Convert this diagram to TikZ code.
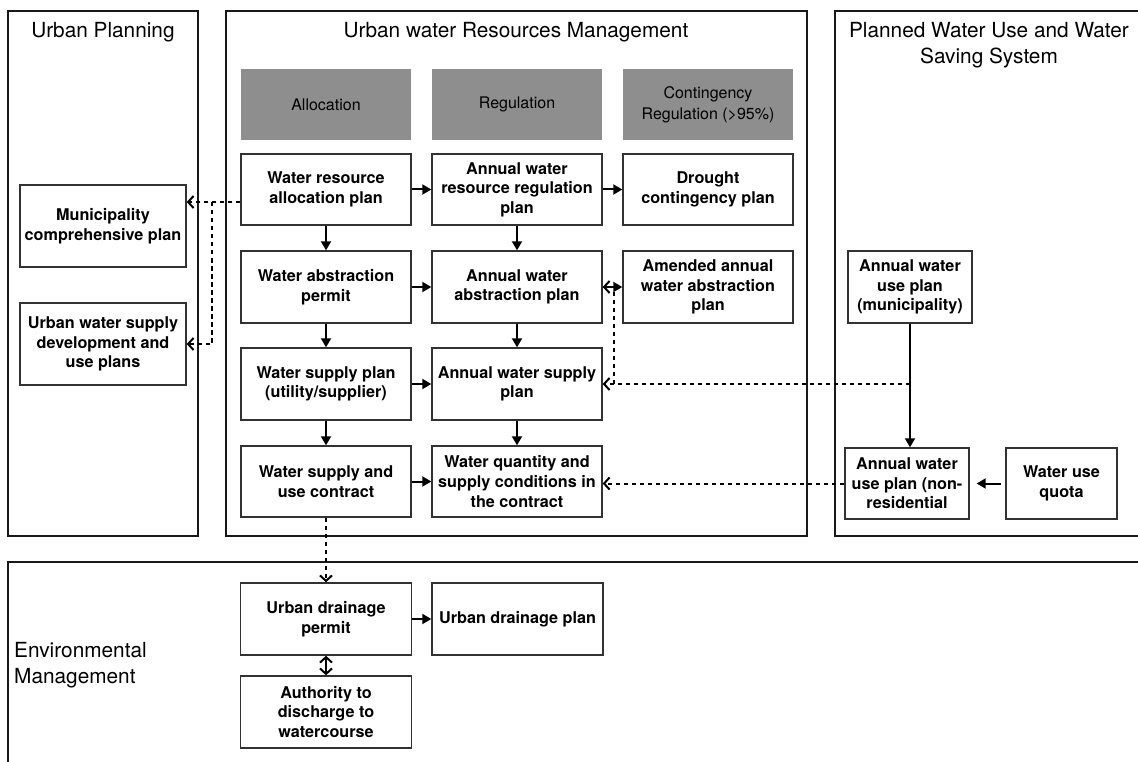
\documentclass[tikz,border=0pt]{standalone}
\usepackage{fontspec}
\setmainfont{TeX Gyre Heros}
\usetikzlibrary{arrows.meta}
\definecolor{hdrgray}{RGB}{142,142,142}
\definecolor{boxline}{RGB}{50,50,50}
\begin{document}
\begin{tikzpicture}[x=1pt,y=-1pt,
  panel/.style={draw=black!90,line width=2.4pt},
  paneltitle/.style={font=\fontsize{20.8}{26.5}\selectfont,align=center,inner sep=0},
  header/.style={fill=hdrgray,minimum width=170,minimum height=71,inner sep=0,align=center,
    font=\fontsize{16}{21}\selectfont},
  box/.style={draw=boxline,line width=1.4pt,fill=white,inner sep=0,align=center,
    font=\bfseries\fontsize{16.2}{19.6}\selectfont},
  flow/.style={line width=2pt,-{Triangle[length=9pt,width=10pt]}},
  link/.style={line width=2pt,dash pattern=on 4.5pt off 3.5pt,-{Straight Barb[length=5.5pt,width=12pt]}},
  twoway/.style={line width=2pt,{Straight Barb[length=5.5pt,width=12pt]}-{Straight Barb[length=5.5pt,width=12pt]}},
]
\useasboundingbox (0,0) rectangle (1138,762);
\clip (0,0) rectangle (1138,762);

% ---- panels ----
\draw[panel] (8,11) rectangle (198,536);
\draw[panel] (226,11) rectangle (807,536);
\draw[panel] (835,11) rectangle (1160,536);
\draw[panel] (8,562) rectangle (1160,790);

\node[paneltitle] (tUP) at (103,32) {Urban Planning};
\node[paneltitle] (tURM) at (516,32) {Urban water Resources Management};
\node[paneltitle] (tPWU) at (989,45) {Planned Water Use and Water\\Saving System};
\node[paneltitle,align=left,anchor=west] (tEM) at (14,665) {Environmental\\Management};

% ---- column headers ----
\node[header] (hAlloc) at (326,104.5) {Allocation};
\node[header] (hReg) at (517,104.5) {Regulation};
\node[header] (hCont) at (708,104.5) {Contingency\\Regulation (>95\%)};

% ---- water resources management ----
\node[box,minimum width=170,minimum height=71] (war) at (326,189.5) {Water resource\\allocation plan};
\node[box,minimum width=170,minimum height=71] (awrr) at (517,189.5) {Annual water\\resource regulation\\plan};
\node[box,minimum width=170,minimum height=71] (dcp) at (708,189.5) {Drought\\contingency plan};

\node[box,minimum width=170,minimum height=72] (wap) at (326,287) {Water abstraction\\permit};
\node[box,minimum width=170,minimum height=72] (awap) at (517,287) {Annual water\\abstraction plan};
\node[box,minimum width=170,minimum height=72] (aawap) at (708,287) {Amended annual\\water abstraction\\plan};

\node[box,minimum width=170,minimum height=72] (wsp) at (326,384) {Water supply plan\\(utility/supplier)};
\node[box,minimum width=170,minimum height=72] (awsp) at (517,384) {Annual water supply\\plan};

\node[box,minimum width=170,minimum height=71] (wsuc) at (326,481.5) {Water supply and\\use contract};
\node[box,minimum width=170,minimum height=71] (wqsc) at (517,481.5) {Water quantity and\\supply conditions in\\the contract};

% ---- urban planning ----
\node[box,minimum width=166,minimum height=82] (mcp) at (103,226) {Municipality\\comprehensive plan};
\node[box,minimum width=166,minimum height=82] (uwsd) at (103,344) {Urban water supply\\development and\\use plans};

% ---- planned water use ----
\node[box,minimum width=124,minimum height=72] (awum) at (910,287) {Annual water\\use plan\\(municipality)};
\node[box,minimum width=124,minimum height=71] (awun) at (907,483.5) {Annual water\\use plan (non-\\residential};
\node[box,minimum width=111,minimum height=71] (wuq) at (1061.5,483.5) {Water use\\quota};

% ---- environmental management ----
\node[box,minimum width=171,minimum height=72] (udp) at (326,619) {Urban drainage\\permit};
\node[box,minimum width=171,minimum height=72] (udplan) at (517.5,619) {Urban drainage plan};
\node[box,minimum width=171,minimum height=72] (atd) at (326,712) {Authority to\\discharge to\\watercourse};

% ---- solid flows ----
\draw[flow] (war) -- (awrr);
\draw[flow] (awrr) -- (dcp);
\draw[flow] (wap) -- (awap);
\draw[flow] (awap) -- (aawap);
\draw[flow] (wsp) -- (awsp);
\draw[flow] (wsuc) -- (wqsc);
\draw[flow] (war) -- (wap);
\draw[flow] (wap) -- (wsp);
\draw[flow] (wsp) -- (wsuc);
\draw[flow] (awrr) -- (awap);
\draw[flow] (awap) -- (awsp);
\draw[flow] (awsp) -- (wqsc);
\draw[flow] (awum.south) -- (awum.south |- awun.north);
\draw[flow,shorten <=4pt,shorten >=7pt] (wuq.west) -- (wuq.west -| awun.east);
\draw[flow] (udp) -- (udplan);
\draw[twoway] (udp) -- (atd);

% ---- dashed links ----
\coordinate (alloctap) at ([yshift=-12.5pt]war.west);
\coordinate (allocsplit) at ([xshift=-28pt]alloctap);
\draw[link] (alloctap) -- (alloctap -| mcp.east);
\draw[link] (allocsplit) |- (uwsd.east);

\coordinate (usetap) at (awum.south |- awsp.east);
\coordinate (usebend) at ([xshift=11pt]awsp.east);
\draw[link] (usetap) -- (awsp.east);
\draw[link] (usebend) |- (awap.east);
\draw[link] (awun.west) -- (awun.west -| wqsc.east);
\draw[link] (wsuc.south) -- (wsuc.south |- udp.north);
\end{tikzpicture}
\end{document}
